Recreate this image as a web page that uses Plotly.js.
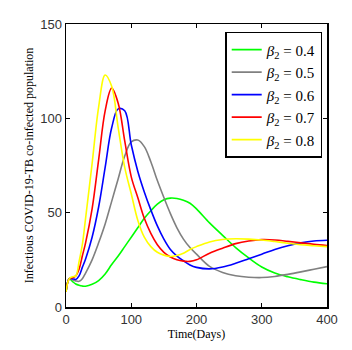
<!DOCTYPE html>
<html>
<head>
<meta charset="utf-8">
<script src="https://cdn.plot.ly/plotly-3.0.1.min.js"></script>
<style>
  html, body { margin: 0; padding: 0; background: #fff; }
  #chart { width: 352px; height: 350px; }
</style>
</head>
<body>
<div id="chart"></div>
<script>
// days shared by every curve
const days = [0, 5, 10, 15, 20, 25, 30, 40, 50, 60, 70, 80, 90, 100, 110, 120, 130, 140,
  150, 160, 170, 180, 190, 200, 220, 240, 260, 280, 300, 320, 340, 360, 380, 400];

// values, one array per beta_2
const beta04 = [8, 15, 13.5, 12.2, 11.5, 11.1, 11, 12, 14, 17.5, 22.5, 27, 32, 37, 42, 47, 51, 54.5,
  56.8, 57.7, 57.5, 56.6, 55, 52, 44.6, 38, 31.5, 26, 21.2, 18, 16, 14.5, 13.2, 12.3];
const beta05 = [8, 15, 14.5, 13.8, 13.6, 15, 18, 25, 34, 44, 56, 68, 80, 87.5, 88.5, 85, 77, 67,
  58, 49.5, 42, 36, 31.5, 28, 21.5, 18.3, 16.6, 15.8, 15.6, 16.2, 17.3, 18.6, 20, 21.4];
const beta06 = [8, 15, 15, 14.6, 16.5, 21, 25.5, 37, 53, 74, 95, 105, 104, 86, 72, 61, 51.5, 43,
  36, 30.5, 27, 24.5, 22.3, 21, 20.2, 21.2, 23.2, 25.6, 28, 30.5, 32.5, 34, 35, 35.4];
const beta07 = [8, 15, 15.5, 16.5, 20, 27, 34, 52, 78, 104, 116, 108, 88, 69, 58, 47, 39, 33,
  29, 26.5, 25, 24.3, 24.2, 25, 28.5, 31.2, 33.6, 35, 35.7, 35.5, 34.8, 34, 33.2, 32.6];
const beta08 = [8, 15, 16, 16.5, 24, 33, 47, 76, 106, 123, 117, 95, 74, 60, 46, 37, 32, 29,
  27.5, 26.8, 27.3, 28.5, 30.5, 32, 34.5, 35.8, 36.2, 36, 35.5, 34.7, 33.8, 33, 32.5, 32];

const seriesNames = ["0.4", "0.5", "0.6", "0.7", "0.8"];
const seriesValues = [beta04, beta05, beta06, beta07, beta08];
const seriesColors = ["#00ff00", "#808080", "#0000ff", "#ff0000", "#ffff00"];

const xTicks = [0, 100, 200, 300, 400];
const yTicks = [0, 50, 100, 150];

let traces = seriesValues.map((vals, i) => {
  return {
    x: days,
    y: vals,
    type: "scatter",
    mode: "lines",
    name: `<i>β</i><sub>2</sub> = ${seriesNames[i]}`,
    line: { color: seriesColors[i], width: 1.6, shape: "spline", smoothing: 1 },
  };
});

let axisCommon = {
  showgrid: false,
  zeroline: false,
  showline: true,
  linecolor: "#000",
  linewidth: 1.5,
  mirror: "ticks",
  ticks: "inside",
  ticklen: 4,
  tickcolor: "#000",
  tickwidth: 1,
  tickfont: { family: "Liberation Sans, Arial, sans-serif", size: 13, color: "#333" },
};

let layout = {
  width: 352,
  height: 350,
  margin: { l: 66, r: 25, t: 24, b: 43 },
  paper_bgcolor: "#fff",
  plot_bgcolor: "#fff",
  showlegend: true,
  legend: {
    x: 0.61,
    y: 0.972,
    xanchor: "left",
    yanchor: "top",
    bgcolor: "#fff",
    bordercolor: "#000",
    borderwidth: 1.5,
    font: { family: "Liberation Serif, Times New Roman, serif", size: 15, color: "#000" },
  },
  xaxis: {
    ...axisCommon,
    range: [0, 400],
    tickvals: xTicks,
    ticklabelstandoff: 0,
    title: {
      text: "Time(Days)",
      font: { family: "Liberation Serif, Times New Roman, serif", size: 12, color: "#000" },
      standoff: 2,
    },
  },
  yaxis: {
    ...axisCommon,
    range: [0, 150],
    tickvals: yTicks,
    title: {
      text: "Infectious COVID-19-TB co-infected population",
      font: { family: "Liberation Serif, Times New Roman, serif", size: 12, color: "#000" },
      standoff: 4,
    },
  },
};

Plotly.newPlot("chart", traces, layout, { staticPlot: true, displayModeBar: false });
</script>
</body>
</html>
